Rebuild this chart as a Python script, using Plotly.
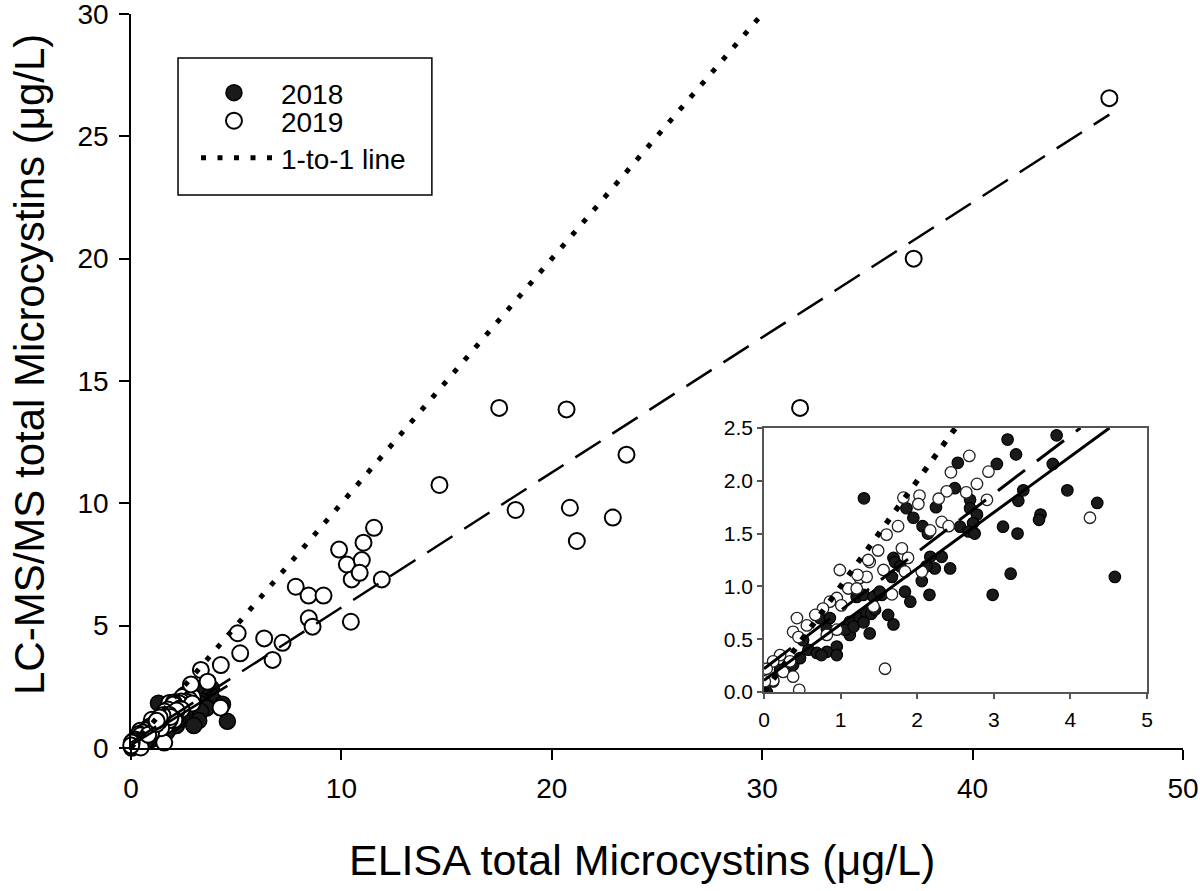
import plotly.graph_objects as go

# ---------------- data ----------------
# 2018 samples (filled circles)
x2018 = [1.305, 2.53, 3.04, 2.49, 2.245, 1.86, 1.95, 2.07, 2.14, 2.69, 2.69, 2.78, 2.73,
         2.56, 2.67, 2.75, 3.12, 3.18, 2.17, 2.32, 1.69, 3.82, 3.29, 3.77, 3.385, 3.32,
         3.96, 4.35, 3.61, 3.59, 3.31, 3.22, 4.58, 1.71, 1.67, 1.54, 1.84, 1.91, 2.16,
         2.06, 2.43, 2.23, 1.62, 1.69, 2.985, 1.21, 1.12, 1.25, 1.34, 1.40, 1.47, 1.30,
         1.12, 1.38, 0.58, 0.69, 0.82, 0.95, 0.95, 0.75, 0.51, 0.73, 0.86, 0.82, 0.32,
         0.035, 0.12, 0.21, 0.38, 0.47, 1.06, 1.43, 1.51, 1.78, 2.12, 1.17, 1.45, 1.30]
y2018 = [1.834, 2.17, 2.16, 1.93, 1.75, 1.74, 1.65, 1.57, 1.50, 1.82, 1.74, 1.68, 1.60,
         1.565, 1.52, 1.50, 1.565, 2.39, 1.28, 1.28, 1.27, 2.43, 2.25, 2.16, 1.91, 1.81,
         1.91, 1.79, 1.68, 1.63, 1.50, 1.12, 1.09, 1.23, 1.09, 0.92, 0.95, 0.855, 0.92,
         1.05, 1.17, 1.17, 0.73, 0.64, 0.92, 0.90, 0.665, 0.70, 0.745, 0.74, 0.92, 0.92,
         0.54, 0.555, 0.40, 0.37, 0.38, 0.43, 0.35, 0.35, 0.49, 0.70, 0.70, 0.60, 0.24,
         0.0, 0.10, 0.21, 0.255, 0.32, 0.59, 0.90, 0.95, 1.19, 1.19, 0.62, 0.78, 0.66]

# 2019 samples (open circles)
x2019 = [2.68, 2.44, 2.93, 2.78, 2.64, 2.385, 2.28, 2.91, 1.82, 2.03, 2.015, 1.75, 1.60,
         2.32, 2.41, 2.17, 1.80, 4.255, 1.58, 1.67, 2.06, 1.84, 1.56, 1.88, 0.99, 1.25,
         1.10, 0.95, 0.86, 1.01, 0.77, 1.43, 0.67, 0.43, 0.56, 0.38, 0.45, 0.21, 0.34,
         0.12, 0.25, 0.12, 0.38, 0.46, 0.95, 0.82, 1.34, 1.38, 1.21, 0.035, 0.01, 1.49,
         1.36, 1.22,
         2.85, 3.32, 3.64, 4.27, 5.07, 5.19, 6.33, 6.73, 7.2, 7.83, 8.44, 9.15, 8.45,
         8.63, 10.45, 9.89, 10.26, 10.49, 10.97, 11.05, 11.55, 11.92, 10.87, 14.66, 17.5,
         20.7, 18.28, 20.86, 21.19, 22.9, 23.55, 31.8, 37.2, 46.5]
y2019 = [2.235, 2.08, 2.086, 1.97, 1.89, 1.90, 1.83, 1.82, 1.84, 1.86, 1.78, 1.57, 1.49,
         1.61, 1.57, 1.53, 1.36, 1.65, 0.22, 0.925, 1.14, 1.14, 1.155, 1.27, 1.155, 1.08,
         0.98, 0.89, 0.855, 0.82, 0.79, 0.81, 0.73, 0.70, 0.63, 0.57, 0.52, 0.35, 0.29,
         0.29, 0.19, 0.11, 0.145, 0.02, 0.59, 0.54, 1.09, 1.23, 0.98, 0.22, 0.10, 1.34,
         1.25, 1.11,
         2.6, 3.19, 2.71, 3.39, 4.69, 3.87, 4.48, 3.6, 4.3, 6.59, 6.23, 6.23, 5.3,
         4.96, 5.16, 8.11, 7.5, 6.89, 7.68, 8.39, 9.0, 6.89, 7.16, 10.75, 13.9,
         13.84, 9.73, 9.82, 8.46, 9.42, 11.99, 13.9, 20.0, 26.56]

# regression fits (intercept, slope)
fit2018 = (0.11, 0.53)
fit2019 = (0.22, 0.552)

main_x_ticks = [0, 10, 20, 30, 40, 50]
main_y_ticks = [0, 5, 10, 15, 20, 25, 30]
inset_x_ticks = [0, 1, 2, 3, 4, 5]
inset_y_ticks = [0.0, 0.5, 1.0, 1.5, 2.0, 2.5]

x_title = "ELISA total Microcystins (μg/L)"
y_title = "LC-MS/MS total Microcystins (μg/L)"

MAIN_X = [0, 50]
MAIN_Y = [0, 30]
INS_X = [0, 5]
INS_Y = [0, 2.5]

FONT = "Liberation Sans, Arial, sans-serif"


def fit_line(fit, xmax, ymax):
    b, m = fit
    xe = min(xmax, (ymax - b) / m)
    return [0, xe], [b, b + m * xe]


fig = go.Figure()

# ---------------- main panel ----------------
fig.add_trace(go.Scatter(x=x2018, y=y2018, mode="markers", name="2018",
                         marker=dict(symbol="circle", size=16, color="#1a1a1a",
                                     line=dict(color="black", width=1.5)),
                         cliponaxis=False, legend="legend"))
fig.add_trace(go.Scatter(x=x2019, y=y2019, mode="markers", name="2019",
                         marker=dict(symbol="circle", size=16, color="white",
                                     line=dict(color="black", width=2)),
                         cliponaxis=False, legend="legend2"))

lx, ly = fit_line(fit2019, max(x2019), MAIN_Y[1])
fig.add_trace(go.Scatter(x=lx, y=ly, mode="lines", showlegend=False,
                         line=dict(color="black", width=2.5, dash="30px,14px")))
lx, ly = fit_line(fit2018, max(x2018), MAIN_Y[1])
fig.add_trace(go.Scatter(x=lx, y=ly, mode="lines", showlegend=False,
                         line=dict(color="black", width=2.5)))
one = [0, min(MAIN_X[1], MAIN_Y[1])]
fig.add_trace(go.Scatter(x=one, y=one, mode="lines", name="1-to-1 line",
                         line=dict(color="black", width=5, dash="5px,11.5px"),
                         legend="legend3"))

# ---------------- inset panel ----------------
fig.add_trace(go.Scatter(x=x2018, y=y2018, mode="markers", showlegend=False,
                         xaxis="x2", yaxis="y2",
                         marker=dict(symbol="circle", size=11.5, color="#1a1a1a",
                                     line=dict(color="black", width=1.2))))
fig.add_trace(go.Scatter(x=x2019, y=y2019, mode="markers", showlegend=False,
                         xaxis="x2", yaxis="y2",
                         marker=dict(symbol="circle", size=11.5, color="white",
                                     line=dict(color="#222", width=1.3))))
lx, ly = fit_line(fit2019, max(x2019), INS_Y[1])
fig.add_trace(go.Scatter(x=lx, y=ly, mode="lines", showlegend=False,
                         xaxis="x2", yaxis="y2",
                         line=dict(color="black", width=3, dash="34px,15px")))
lx, ly = fit_line(fit2018, max(x2018), INS_Y[1])
fig.add_trace(go.Scatter(x=lx, y=ly, mode="lines", showlegend=False,
                         xaxis="x2", yaxis="y2",
                         line=dict(color="black", width=3)))
one_i = [0, min(INS_X[1], INS_Y[1])]
fig.add_trace(go.Scatter(x=one_i, y=one_i, mode="lines", showlegend=False,
                         xaxis="x2", yaxis="y2",
                         line=dict(color="black", width=5.5, dash="5.5px,10.5px")))

axis_common = dict(showline=True, linecolor="black", linewidth=1.5, ticks="outside",
                   tickcolor="black", tickwidth=1.5, showgrid=False, zeroline=False,
                   ticklabeloverflow="allow", ticklabelstandoff=5,
                   tickfont=dict(family=FONT, size=28, color="black"))

leg_common = dict(xanchor="left", yanchor="middle", bgcolor="rgba(0,0,0,0)",
                  borderwidth=0, font=dict(family=FONT, size=28, color="black"))

fig.update_layout(
    width=1200, height=891,
    margin=dict(l=131, r=17, t=14, b=143, autoexpand=False),
    paper_bgcolor="white", plot_bgcolor="white",
    font=dict(family=FONT, color="black"),
    xaxis=dict(range=MAIN_X, tickvals=main_x_ticks, ticklen=10, domain=[0, 1],
               automargin=False, **axis_common),
    yaxis=dict(range=MAIN_Y, tickvals=main_y_ticks, ticklen=10, domain=[0, 1],
               automargin=False, **axis_common),
    xaxis2=dict(range=INS_X, tickvals=inset_x_ticks, domain=[0.6017, 0.9658],
                anchor="y2", showline=True, mirror=True, linecolor="#555", linewidth=1.5,
                ticks="outside", ticklen=5, tickcolor="#555", tickwidth=1.5,
                showgrid=False, zeroline=False, ticklabelstandoff=3,
                tickfont=dict(family=FONT, size=21, color="black")),
    yaxis2=dict(range=INS_Y, tickvals=inset_y_ticks, tickformat=".1f",
                domain=[0.0763, 0.436], anchor="x2", showline=True, mirror=True,
                linecolor="#555", linewidth=1.5, ticks="outside", ticklen=5,
                tickcolor="#555", tickwidth=1.5, showgrid=False, zeroline=False,
                tickfont=dict(family=FONT, size=21, color="black")),
    legend=dict(x=0.0532, y=0.8924, itemwidth=84, **leg_common),
    legend2=dict(x=0.0532, y=0.8542, itemwidth=84, **leg_common),
    legend3=dict(x=0.0618, y=0.8038, itemwidth=75, **leg_common),
    annotations=[
        dict(text=x_title, xref="paper", yref="paper", x=0.4857, y=-0.1526,
             xanchor="center", yanchor="middle", showarrow=False,
             font=dict(family=FONT, size=43, color="black")),
        dict(text=y_title, xref="paper", yref="paper", x=-0.096, y=0.5218,
             xanchor="center", yanchor="middle", showarrow=False, textangle=-90,
             font=dict(family=FONT, size=42, color="black")),
    ],
    shapes=[dict(type="rect", xref="paper", yref="paper",
                 x0=0.0447, x1=0.286, y0=0.7534, y1=0.940,
                 line=dict(color="black", width=1.5), fillcolor="rgba(0,0,0,0)",
                 layer="above")],
)

fig.write_html("out.html", config={"displayModeBar": False},
               post_script="document.body.style.margin='0px';")
